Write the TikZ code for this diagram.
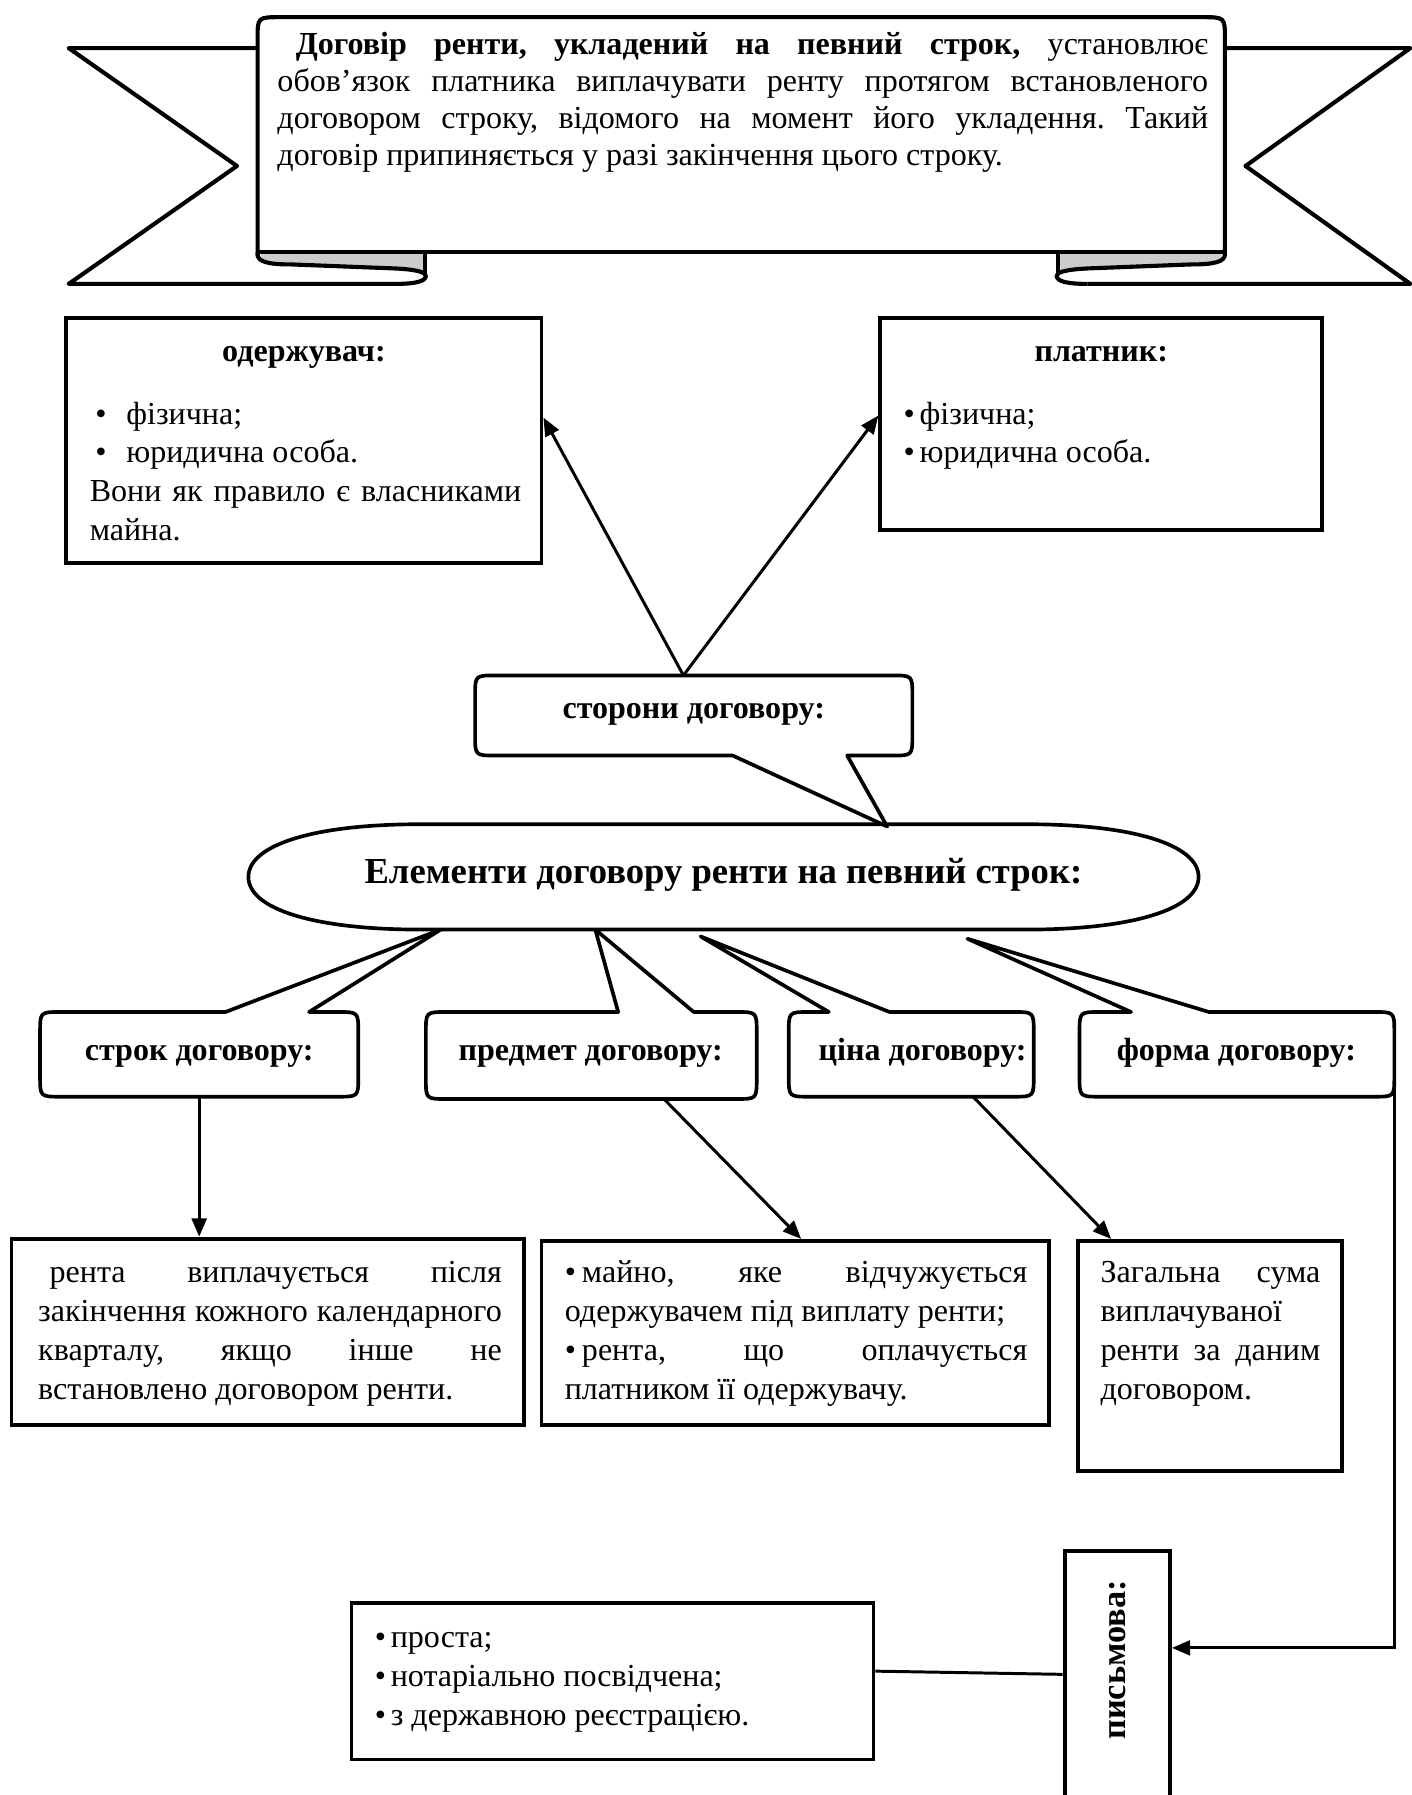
\documentclass[tikz,border=0pt]{standalone}
\usepackage{fontspec}
\setmainfont{Liberation Serif}
\usetikzlibrary{arrows.meta,calc}
\frenchspacing
\newcommand\mystrut{\rule{0pt}{12pt}}
\newcommand\nsp{\spaceskip=0pt\xspaceskip=0pt\relax}
\newcommand\jl[2]{\makebox[#1][s]{\nsp #2}}
\begin{document}
\begin{tikzpicture}[x=0.5pt,y=-0.5pt,
  ban/.style={line width=1.8pt, line join=round},
  box/.style={draw, line width=1.7pt, fill=white, inner sep=0pt},
  co/.style={draw, line width=1.6pt, fill=white, line join=round},
  arr/.style={line width=1.3pt, -{Triangle[length=8pt,width=6.5pt]}},
  ln/.style={line width=1.3pt},
  txt/.style={inner sep=0pt, align=left, font=\fontsize{14pt}{17pt}\selectfont},
  ttl/.style={inner sep=0pt, font=\fontsize{14pt}{17pt}\selectfont\bfseries},
]
\useasboundingbox (0,0) rectangle (1233,1568);

% ---------- banner ----------
\draw[ban] (225,42) -- (60,42) -- (207,145) -- (60,248) -- (345,248);
\draw[ban] (1070,42) -- (1232,42) -- (1088,145) -- (1232,248) -- (950,248);
\draw[ban, fill=white] (225,224) -- (225,34) .. controls (225,15) .. (245,15) -- (1050,15) .. controls (1070,15) .. (1070,34) -- (1070,224);
\fill[gray!40] (228,220) -- (371,220) -- (371,238) .. controls (362,235) .. (345,234.5) -- (255,231) .. controls (236,230.5) and (228,228) .. (228,222) -- cycle;
\fill[gray!40] (1067,220) -- (924,220) -- (924,238) .. controls (933,235) .. (950,234.5) -- (1040,231) .. controls (1059,230.5) and (1067,228) .. (1067,222) -- cycle;
\draw[ban] (225,220) -- (1070,220);
\draw[ban] (225,220) -- (225,222) .. controls (225,229) and (235,231) .. (255,231) -- (345,234.5) .. controls (365,235.5) and (372,238) .. (372,241) .. controls (372,246) and (362,248) .. (345,248);
\draw[ban] (371,220) -- (371,239);
\draw[ban] (1070,220) -- (1070,222) .. controls (1070,229) and (1060,231) .. (1040,231) -- (950,234.5) .. controls (930,235.5) and (923,238) .. (923,241) .. controls (923,246) and (933,248) .. (950,248);
\draw[ban] (924,220) -- (924,239);
\node[txt, anchor=north west, text width=406.5pt, font=\fontsize{14pt}{16.2pt}\selectfont] (bantxt) at (242,23)
{\nsp\mystrut\hspace*{8pt}\jl{398.5pt}{\textbf{Договір ренти, укладений на певний строк,} установлює}\\
\jl{406.5pt}{обов’язок платника виплачувати ренту протягом встановленого}\\
\jl{406.5pt}{договором строку, відомого на момент його укладення. Такий}\\
договір припиняється у разі закінчення цього строку.};

% ---------- parties ----------
\node[box, minimum width=207.5pt, minimum height=107pt] (odj) at (265.5,385) {};
\node[ttl, anchor=base] (odjT) at (265.5,316) {одержувач:};
\node[txt, anchor=north west, text width=188.5pt] (odjL) at (78,346)
{\nsp\mystrut\makebox[16pt][l]{\hspace{2.5pt}•}фізична;\\
\makebox[16pt][l]{\hspace{2.5pt}•}юридична особа.\\
\jl{188.5pt}{Вони як правило є власниками}\\
майна.};

\node[box, minimum width=193pt, minimum height=92.5pt] (plat) at (962,370.5) {};
\node[ttl, anchor=base] (platT) at (962,316) {платник:};
\node[txt, anchor=north west, text width=170pt] (platL) at (789,346)
{\nsp\mystrut\makebox[7pt][l]{•}фізична;\\
\makebox[7pt][l]{•}юридична особа.};

% ---------- central ellipse ----------
\draw[co] (367,720) -- (897,720) .. controls (990,720) and (1047,738) .. (1047,766) .. controls (1047,794) and (990,812) .. (897,812) -- (367,812) .. controls (274,812) and (217,794) .. (217,766) .. controls (217,738) and (274,720) .. (367,720) -- cycle;
\node[inner sep=0pt, font=\fontsize{16pt}{19pt}\selectfont\bfseries, anchor=base] (elem) at (632,772) {Елементи договору ренти на певний строк:};

% ---------- callout: сторони ----------
\draw[co] (433,590) -- (779,590) .. controls (797,590) .. (797,608) -- (797,642) .. controls (797,660) .. (779,660) -- (740,660) -- (775,722) -- (640,660) -- (433,660) .. controls (415,660) .. (415,642) -- (415,608) .. controls (415,590) .. (433,590) -- cycle;
\node[ttl, anchor=base] (storony) at (606,628) {сторони договору:};
\coordinate (stTop) at (597,590);

% ---------- lower callouts ----------
\draw[co] (53,884) -- (197,884) -- (385,812) -- (270,884) -- (295,884) .. controls (313,884) .. (313,902) -- (313,940) .. controls (313,958) .. (295,958) -- (53,958) .. controls (35,958) .. (35,940) -- (35,902) .. controls (35,884) .. (53,884) -- cycle;
\node[ttl, anchor=base] (strok) at (174,926) {строк договору:};
\coordinate (strokB) at (174,958);

\draw[co] (390,884) -- (540,884) -- (520,812) -- (606,884) -- (643,884) .. controls (661,884) .. (661,902) -- (661,942) .. controls (661,960) .. (643,960) -- (390,960) .. controls (372,960) .. (372,942) -- (372,902) .. controls (372,884) .. (390,884) -- cycle;
\node[ttl, anchor=base] (predm) at (516,926) {предмет договору:};
\coordinate (predB) at (580,960);

\draw[co] (707,884) -- (724,884) -- (612,818) -- (777,884) -- (885,884) .. controls (903,884) .. (903,902) -- (903,940) .. controls (903,958) .. (885,958) -- (707,958) .. controls (689,958) .. (689,940) -- (689,902) .. controls (689,884) .. (707,884) -- cycle;
\node[ttl, anchor=base] (cina) at (806,926) {ціна договору:};
\coordinate (cinaB) at (850,958);

\draw[co] (961,884) -- (988,884) -- (845,820) -- (1056,884) -- (1200,884) .. controls (1218,884) .. (1218,902) -- (1218,940) .. controls (1218,958) .. (1200,958) -- (961,958) .. controls (943,958) .. (943,940) -- (943,902) .. controls (943,884) .. (961,884) -- cycle;
\node[ttl, anchor=base] (forma) at (1080,926) {форма договору:};
\coordinate (formaB) at (1218,940);

% ---------- lower boxes ----------
\node[box, minimum width=224pt, minimum height=81.5pt] (boxA) at (234,1163.5) {};
\node[txt, anchor=north west, text width=202.5pt] (boxAT) at (33,1096)
{\nsp\mystrut\hspace*{5pt}\jl{197.5pt}{рента виплачується після}\\
\jl{202.5pt}{закінчення кожного календарного}\\
\jl{202.5pt}{кварталу, якщо інше не}\\
встановлено договором ренти.};

\node[box, minimum width=221.5pt, minimum height=80.5pt] (boxB) at (694.5,1164.5) {};
\node[txt, anchor=north west, text width=202pt] (boxBT) at (493,1096)
{\nsp\mystrut\jl{202pt}{\makebox[7.5pt][l]{•}майно, яке відчужується}\\
одержувачем під виплату ренти;\\
\jl{202pt}{\makebox[7.5pt][l]{•}рента, що оплачується}\\
платником її одержувачу.};

\node[box, minimum width=115pt, minimum height=100.5pt] (boxC) at (1057,1184.5) {};
\node[txt, anchor=north west, text width=96pt] (boxCT) at (961,1096)
{\nsp\mystrut\jl{96pt}{Загальна сума}\\
виплачуваної\\
\jl{96pt}{ренти за даним}\\
договором.};

\node[box, minimum width=46pt, minimum height=122.5pt] (pysm) at (976,1477.5) {};
\node[ttl, rotate=90, font=\fontsize{15pt}{18pt}\selectfont\bfseries] (pysmT) at (976,1450) {письмова:};

\node[box, minimum width=228pt, minimum height=68.5pt] (boxD) at (535,1468.5) {};
\node[txt, anchor=north west, text width=200pt] (boxDT) at (327,1415)
{\nsp\mystrut\makebox[7pt][l]{•}проста;\\
\makebox[7pt][l]{•}нотаріально посвідчена;\\
\makebox[7pt][l]{•}з державною реєстрацією.};

% ---------- connectors ----------
\draw[arr] (stTop) -- ($(odj.north east)!0.407!(odj.south east)$);
\draw[arr] (stTop) -- ($(plat.north west)!0.46!(plat.south west)$);
\draw[arr] (strokB) -- (strokB |- boxA.north);
\draw[arr] (predB) -- ($(boxB.north west)!0.512!(boxB.north east)$);
\draw[arr] (cinaB) -- ($(boxC.north west)!0.13!(boxC.north east)$);
\draw[arr] (formaB) |- ($(pysm.north east)!0.347!(pysm.south east)$);
\draw[ln] ($(boxD.north east)!0.438!(boxD.south east)$) -- ($(pysm.north west)!0.44!(pysm.south west)$);
\end{tikzpicture}
\end{document}
